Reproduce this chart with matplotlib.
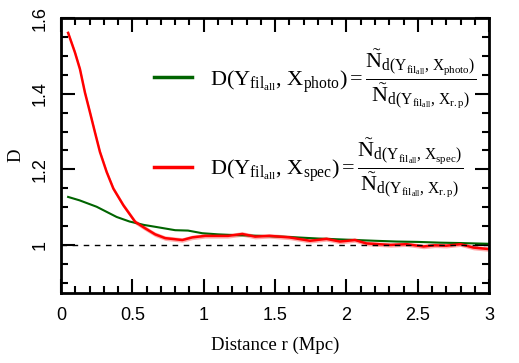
import numpy as np
import matplotlib
matplotlib.use('Agg')
import matplotlib.pyplot as plt

# values
r_photo = [0.05, 0.13, 0.25, 0.39, 0.48, 0.58, 0.66, 0.8, 0.89, 0.99, 1.1, 1.22,
           1.4, 1.6, 1.8, 2.0, 2.2, 2.35, 2.5, 2.66, 2.8, 3.0]
d_photo = [1.127, 1.118, 1.101, 1.074, 1.062, 1.053, 1.048, 1.039, 1.038, 1.031, 1.028, 1.026,
           1.024, 1.021, 1.017, 1.014, 1.011, 1.009, 1.008, 1.006, 1.005, 1.003]

r_spec = [0.05, 0.098, 0.133, 0.168, 0.203, 0.238, 0.273, 0.32, 0.367, 0.437, 0.52, 0.59, 0.66,
          0.73, 0.85, 0.92, 1.01, 1.17, 1.27, 1.36, 1.46, 1.6, 1.745, 1.86, 1.955, 2.06, 2.14,
          2.31, 2.42, 2.54, 2.62, 2.7, 2.8, 2.89, 3.0]
d_spec = [1.561, 1.509, 1.465, 1.403, 1.351, 1.298, 1.246, 1.193, 1.149, 1.105, 1.061, 1.044, 1.028,
          1.018, 1.013, 1.02, 1.024, 1.024, 1.029, 1.022, 1.024, 1.02, 1.011, 1.016, 1.009, 1.013,
          1.004, 1.0, 1.002, 0.996, 0.999, 0.998, 1.002, 0.993, 0.989]
err_spec = 0.006

lab_photo = (r'$\mathrm{D(Y_{fil_{all}},\,X_{photo})=\dfrac{\tilde{N}_{d(Y_{fil_{all}},\,X_{photo})}}'
             r'{\tilde{N}_{d(Y_{fil_{all}},\,X_{r.p})}}}$')
lab_spec = (r'$\mathrm{D(Y_{fil_{all}},\,X_{spec})=\dfrac{\tilde{N}_{d(Y_{fil_{all}},\,X_{spec})}}'
            r'{\tilde{N}_{d(Y_{fil_{all}},\,X_{r.p})}}}$')

plt.rcParams['mathtext.fontset'] = 'custom'
plt.rcParams['mathtext.rm'] = 'Liberation Serif'
plt.rcParams['mathtext.it'] = 'Liberation Serif:italic'

fig = plt.figure(figsize=(5.19, 3.63), dpi=100)
ax = fig.add_axes([0.1175, 0.193, 0.825, 0.757])

rs = np.array(r_spec)
ds = np.array(d_spec)
ax.fill_between(rs, ds - err_spec, ds + err_spec, color='#ff9a9a', lw=0, alpha=0.8)
l1, = ax.plot(r_photo, d_photo, color='#006400', lw=1.5)
l2, = ax.plot(r_spec, d_spec, color='red', lw=1.8)
ax.axhline(1.0, color='black', lw=1, ls=(0, (4, 4)))

ax.set_xlim(0, 3)
ax.set_ylim(0.873, 1.6)
ax.set_xticks([0, 0.5, 1, 1.5, 2, 2.5, 3])
ax.set_xticklabels(['0', '0.5', '1', '1.5', '2', '2.5', '3'])
ax.set_xticks(np.arange(0, 3.01, 0.1), minor=True)
ax.set_yticks([1, 1.2, 1.4, 1.6])
ax.set_yticklabels(['1', '1.2', '1.4', '1.6'], rotation=90, va='center')
ax.set_yticks(np.arange(0.9, 1.61, 0.05), minor=True)

ax.tick_params(which='both', direction='in', top=True, right=True, width=1.5)
ax.tick_params(which='major', length=10, labelsize=13, pad=10)
ax.tick_params(which='minor', length=5)
ax.tick_params(axis='y', pad=9)
for lbl in ax.get_xticklabels() + ax.get_yticklabels():
    lbl.set_family('Liberation Sans')
for s in ax.spines.values():
    s.set_linewidth(2)

ax.set_xlabel('Distance r (Mpc)', family='Liberation Serif', fontsize=13.5, labelpad=9)
ax.set_ylabel('D', family='Liberation Serif', fontsize=13.5, labelpad=5)

leg = ax.legend([l1, l2], [lab_photo, lab_spec], loc='upper right', frameon=False,
                fontsize=16, handlelength=1.7, handletextpad=0.8, labelspacing=1.2,
                borderaxespad=0.0, bbox_to_anchor=(0.99, 0.928))
for h in leg.get_lines():
    h.set_linewidth(2.5)

fig.savefig('out.png', dpi=100)
